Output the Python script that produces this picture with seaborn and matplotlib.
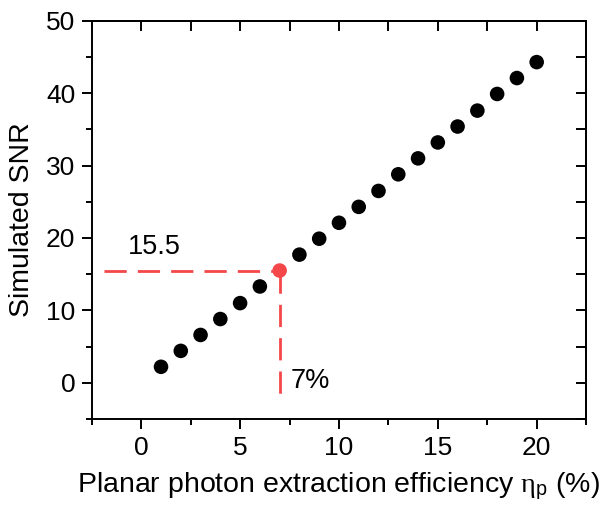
import numpy as np
import pandas as pd
import matplotlib
matplotlib.use("Agg")
import matplotlib.pyplot as plt
import seaborn as sns
from matplotlib.ticker import MultipleLocator

# Data
efficiency = [1, 2, 3, 4, 5, 6, 7, 8, 9, 10, 11, 12, 13, 14, 15, 16, 17, 18, 19, 20]
snr = [2.2, 4.4, 6.6, 8.8, 11.0, 13.3, 15.5, 17.7, 19.9, 22.1,
       24.3, 26.5, 28.8, 31.0, 33.2, 35.4, 37.6, 39.9, 42.1, 44.3]
highlight_x = 7
highlight_y = 15.5

sns.set_style("ticks")
plt.rcParams['font.family'] = ['Liberation Sans', 'DejaVu Sans']
plt.rcParams['mathtext.fontset'] = 'custom'
plt.rcParams['mathtext.rm'] = 'Liberation Serif'
plt.rcParams['mathtext.sf'] = 'Liberation Sans'
plt.rcParams['mathtext.it'] = 'Liberation Serif:italic'
for k in ['text.color', 'axes.labelcolor', 'xtick.color', 'ytick.color', 'axes.edgecolor']:
    plt.rcParams[k] = 'black'

df = pd.DataFrame({"x": efficiency, "y": snr})
df_black = df[df["x"] != highlight_x]
df_red = df[df["x"] == highlight_x]

fig = plt.figure(figsize=(6.08, 5.09), dpi=100)
ax = fig.add_axes([0.151, 0.177, 0.813, 0.782])

red = "#f4474a"
ax.plot([-1.9, highlight_x], [highlight_y, highlight_y], color=red, lw=2, ls=(0, (8, 4)), zorder=1)
ax.plot([highlight_x, highlight_x], [highlight_y, -3], color=red, lw=2, ls=(0, (8, 4)), zorder=1)

sns.scatterplot(data=df_black, x="x", y="y", color="black", s=110, edgecolor="none", ax=ax, zorder=3)
sns.scatterplot(data=df_red, x="x", y="y", color=red, s=110, edgecolor="none", ax=ax, zorder=3)

ax.text(0.65, 18.8, "15.5", fontsize=19.5, ha="center", va="center")
ax.text(7.55, 0.2, "7%", fontsize=19.5, ha="left", va="center")

ax.set_xlim(-2.5, 22.5)
ax.set_ylim(-5, 50)
ax.xaxis.set_major_locator(MultipleLocator(5))
ax.xaxis.set_minor_locator(MultipleLocator(2.5))
ax.yaxis.set_major_locator(MultipleLocator(10))
ax.yaxis.set_minor_locator(MultipleLocator(5))

for sp in ax.spines.values():
    sp.set_visible(True)
    sp.set_linewidth(1.4)

ax.tick_params(axis="both", which="major", direction="out", length=7, width=1.4,
               labelsize=19, top=False, right=False, pad=5)
ax.tick_params(axis="both", which="minor", direction="out", length=4, width=1.4,
               top=False, right=False)

# mirrored inward ticks on top and right
secx = ax.secondary_xaxis("top")
secx.xaxis.set_major_locator(MultipleLocator(2.5))
secx.tick_params(direction="in", length=7, width=1.4, labeltop=False)
secx.set_xticklabels([])
secy = ax.secondary_yaxis("right")
secy.yaxis.set_major_locator(MultipleLocator(5))
secy.tick_params(direction="in", length=7, width=1.4, labelright=False)
secy.set_yticklabels([])
secx.spines["top"].set_linewidth(1.4)
secy.spines["right"].set_linewidth(1.4)

ax.set_xlabel(r"Planar photon extraction efficiency $\mathrm{\eta}_\mathsf{p}$ (%)", fontsize=20.5, labelpad=8)
ax.set_ylabel("Simulated SNR", fontsize=20.5, labelpad=8)

fig.savefig("out.png", dpi=100)
